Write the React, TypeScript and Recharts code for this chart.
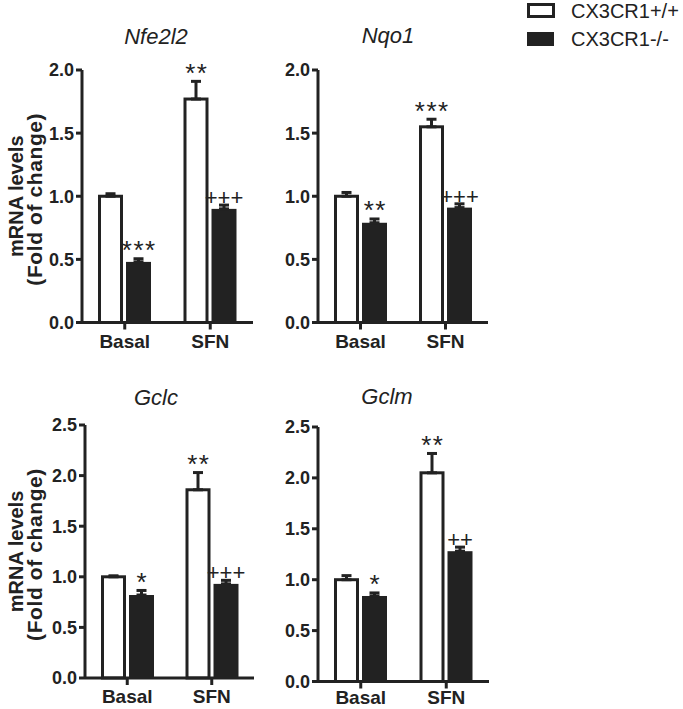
import React from 'react';
import { BarChart, Bar, XAxis, YAxis, ErrorBar, Label } from 'recharts';

const INK = '#222';
const FONT = '"Liberation Sans", Arial, Helvetica, sans-serif';

// categories
const groups = ['Basal', 'SFN'];

// Nfe2l2
const nfe2l2Wt = [1.0, 1.77];
const nfe2l2WtErr = [0.02, 0.14];
const nfe2l2Ko = [0.48, 0.9];
const nfe2l2KoErr = [0.025, 0.03];
const nfe2l2WtSig = ['', '**'];
const nfe2l2KoSig = ['***', '+++'];

// Nqo1
const nqo1Wt = [1.0, 1.55];
const nqo1WtErr = [0.03, 0.06];
const nqo1Ko = [0.79, 0.91];
const nqo1KoErr = [0.03, 0.03];
const nqo1WtSig = ['', '***'];
const nqo1KoSig = ['**', '+++'];

// Gclc
const gclcWt = [1.0, 1.86];
const gclcWtErr = [0.01, 0.17];
const gclcKo = [0.82, 0.93];
const gclcKoErr = [0.045, 0.035];
const gclcWtSig = ['', '**'];
const gclcKoSig = ['*', '+++'];

// Gclm
const gclmWt = [1.0, 2.05];
const gclmWtErr = [0.04, 0.19];
const gclmKo = [0.84, 1.28];
const gclmKoErr = [0.03, 0.04];
const gclmWtSig = ['', '**'];
const gclmKoSig = ['*', '++'];

const ticks20 = [0, 0.5, 1, 1.5, 2];
const ticks25 = [0, 0.5, 1, 1.5, 2, 2.5];

const buildData = (wt: number[], wtErr: number[], ko: number[], koErr: number[], wtSig: string[], koSig: string[]) =>
  groups.map((g, i) => ({
    name: g,
    wt: wt[i],
    wtErr: [0, wtErr[i]],
    ko: ko[i],
    koErr: [0, koErr[i]],
    wtSig: wtSig[i],
    koSig: koSig[i],
  }));

// bar + significance mark above its error bar
const makeShape = (fill: string, valKey: string, errKey: string, sigKey: string) => (props: any) => {
  const { x, y, width, height, payload } = props;
  const v = payload[valKey];
  const e = payload[errKey][1];
  const ppu = v ? height / v : 0;
  const top = y - e * ppu;
  const sig: string = payload[sigKey];
  const isStar = sig && sig[0] === '*';
  const white = fill === '#fff';
  return (
    <g>
      <rect
        x={white ? x + 1.5 : x}
        y={y}
        width={white ? width - 3 : width}
        height={height}
        fill={fill}
        stroke={white ? INK : 'none'}
        strokeWidth={3}
      />
      {sig ? (
        <text
          x={x + width / 2 + (isStar ? 0.75 : 0)}
          y={isStar ? top + 0.5 : top}
          textAnchor="middle"
          fontFamily={FONT}
          fontSize={isStar ? 26 : 22}
          letterSpacing={isStar ? 1.5 : 0}
          fill={INK}
        >
          {sig}
        </text>
      ) : null}
    </g>
  );
};

const wtShape = makeShape('#fff', 'wt', 'wtErr', 'wtSig');
const koShape = makeShape(INK, 'ko', 'koErr', 'koSig');

interface PanelProps {
  data: any[];
  plotLeft: number;
  plotRight: number;
  plotTop: number;
  plotBottom: number;
  yMax: number;
  ticks: number[];
  yLabel?: boolean;
  xTickMargin?: number;
}

const Panel = ({ data, plotLeft, plotRight, plotTop, plotBottom, yMax, ticks, yLabel, xTickMargin = 5 }: PanelProps) => {
  const chartLeft = plotLeft - 82;
  const chartTop = plotTop - 20;
  const w = 82 + (plotRight - plotLeft) + 10;
  const h = 20 + (plotBottom - plotTop) + 40;

  const labelContent = (props: any) => {
    const vb = props.viewBox || {};
    const cy = (vb.y ?? 20) + (vb.height ?? 0) / 2;
    const x1 = 23 - chartLeft;
    const x2 = 42 - chartLeft;
    return (
      <g>
        <text transform={`rotate(-90 ${x1} ${cy})`} x={x1} y={cy} textAnchor="middle"
          fontFamily={FONT} fontWeight="bold" fontSize={20} fill={INK}>mRNA levels</text>
        <text transform={`rotate(-90 ${x2} ${cy + 3})`} x={x2} y={cy + 3} textAnchor="middle"
          fontFamily={FONT} fontWeight="bold" fontSize={21} letterSpacing={0.6} fill={INK}>(Fold of change)</text>
      </g>
    );
  };

  return (
    <div style={{ position: 'absolute', left: chartLeft, top: chartTop }}>
      <BarChart width={w} height={h} data={data} margin={{ top: 20, right: 10, bottom: 0, left: 42 }}
        barSize={25} barGap={3}>
        <XAxis dataKey="name" height={40} axisLine={{ stroke: INK, strokeWidth: 3 }}
          tickLine={{ stroke: INK, strokeWidth: 3 }} tickSize={7} tickMargin={xTickMargin}
          tick={{ fill: INK, fontSize: 19, fontWeight: 'bold', fontFamily: FONT }} />
        <YAxis width={40} domain={[0, yMax]} ticks={ticks} interval={0} allowDecimals
          tickFormatter={(v: number) => v.toFixed(1)}
          axisLine={{ stroke: INK, strokeWidth: 3 }} tickLine={{ stroke: INK, strokeWidth: 3 }}
          tickSize={6} tickMargin={2}
          tick={{ fill: INK, fontSize: 18, fontWeight: 'bold', fontFamily: FONT }}>
          {yLabel ? <Label content={labelContent} /> : null}
        </YAxis>
        <Bar dataKey="wt" shape={wtShape} isAnimationActive={false}>
          <ErrorBar dataKey="wtErr" width={5} strokeWidth={3} stroke={INK} direction="y" isAnimationActive={false} />
        </Bar>
        <Bar dataKey="ko" shape={koShape} isAnimationActive={false}>
          <ErrorBar dataKey="koErr" width={5} strokeWidth={3} stroke={INK} direction="y" isAnimationActive={false} />
        </Bar>
      </BarChart>
    </div>
  );
};

const titles = [
  { text: 'Nfe2l2', x: 156, y: 44 },
  { text: 'Nqo1', x: 388, y: 43 },
  { text: 'Gclc', x: 156, y: 405 },
  { text: 'Gclm', x: 387, y: 404 },
];

const legendItems = ['CX3CR1+/+', 'CX3CR1-/-'];

export default function App() {
  return (
    <div style={{ position: 'absolute', left: 0, top: 0, width: 683, height: 709, background: '#fff', overflow: 'hidden' }}>
      <Panel data={buildData(nfe2l2Wt, nfe2l2WtErr, nfe2l2Ko, nfe2l2KoErr, nfe2l2WtSig, nfe2l2KoSig)}
        plotLeft={82} plotRight={253} plotTop={70} plotBottom={322.5} yMax={2} ticks={ticks20} yLabel />
      <Panel data={buildData(nqo1Wt, nqo1WtErr, nqo1Ko, nqo1KoErr, nqo1WtSig, nqo1KoSig)}
        plotLeft={318} plotRight={488} plotTop={70} plotBottom={322.5} yMax={2} ticks={ticks20} />
      <Panel data={buildData(gclcWt, gclcWtErr, gclcKo, gclcKoErr, gclcWtSig, gclcKoSig)}
        plotLeft={85} plotRight={254} plotTop={425} plotBottom={678} yMax={2.5} ticks={ticks25} yLabel />
      <Panel data={buildData(gclmWt, gclmWtErr, gclmKo, gclmKoErr, gclmWtSig, gclmKoSig)}
        plotLeft={318} plotRight={489} plotTop={427} plotBottom={681.5} yMax={2.5} ticks={ticks25}
        xTickMargin={2} />
      <svg width={683} height={709} style={{ position: 'absolute', left: 0, top: 0, pointerEvents: 'none' }}>
        {titles.map((t) => (
          <text key={t.text} x={t.x} y={t.y} textAnchor="middle" fontFamily={FONT} fontStyle="italic"
            fontSize={22} fill={INK}>{t.text}</text>
        ))}
        <rect x={528.5} y={4.5} width={25} height={12} fill="#fff" stroke={INK} strokeWidth={3} />
        <rect x={527} y={32} width={27} height={14} fill={INK} />
        {legendItems.map((t, i) => (
          <text key={t} x={571} y={18 + i * 28} fontFamily={FONT} fontSize={20} fill={INK}>{t}</text>
        ))}
      </svg>
    </div>
  );
}
